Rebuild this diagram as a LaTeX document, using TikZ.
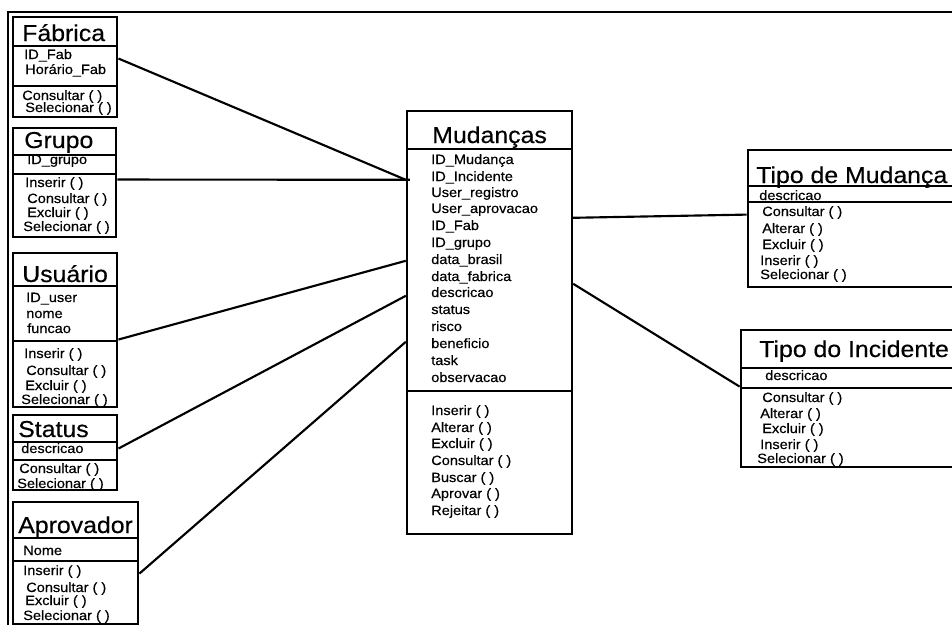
\documentclass[tikz,border=0pt]{standalone}
\usepackage{fontspec}
\setmainfont{Liberation Sans}[FakeStretch=1.08,FakeBold=0.4]
\usetikzlibrary{calc,fit}

\tikzset{
  compart/.style={draw, inner sep=0pt, line width=#1},
  compart/.default=2pt,
  link/.style={line width=1.6pt},
  frame/.style={line width=1.8pt},
  ttl/.style={anchor=base west, inner sep=0pt, font=\fontsize{17.25}{17.25}\selectfont},
  item/.style={anchor=base west, inner sep=0pt, font=\fontsize{10.1}{10.1}\selectfont},
}

% #1 name, #2 x1, #3 y1, #4 x2, #5 y2, #6 first divider, #7 second divider, #8 line width
\newcommand\umlclass[8]{%
  \node[compart=#8, fit={(#2,#3) (#4,#6)}] (#1T) {};
  \node[compart=#8, fit={(#2,#6) (#4,#7)}] (#1A) {};
  \node[compart=#8, fit={(#2,#7) (#4,#5)}] (#1M) {};
}
% #1 name prefix, #2 style, #3 list of x/y/text
\newcommand\umllines[3]{%
  \foreach \px/\py/\tx [count=\k] in {#3} {\node[#2] (#1-\k) at (\px,\py) {\tx};}
}

\begin{document}
\begin{tikzpicture}[x=0.75pt,y=-0.75pt]
\fill[white] (0,0) rectangle (952,625);
\clip (0,0) rectangle (952,625);

% outer frame
\draw[frame] (8,625) -- (8,12) -- (960,12);

% classes
\umlclass{fab}{13}{17}{117}{117}{46}{86}{2.2pt}
\umlclass{grp}{13}{128}{116}{237}{155}{174}{2.2pt}
\umlclass{usr}{13}{253}{117}{407}{286}{341}{2.2pt}
\umlclass{sta}{13}{415}{117}{490}{442}{460}{2.2pt}
\umlclass{apr}{13}{502}{138}{624}{538}{561}{2.2pt}
\umlclass{mud}{407}{111}{572}{534}{149}{391}{1.8pt}
\umlclass{tdm}{748}{150}{975}{287}{186}{202}{2.1pt}
\umlclass{tdi}{741}{330}{975}{467}{368}{388}{2.1pt}

% Fábrica
\node[ttl] (fabT-1) at (22,41) {Fábrica};
\umllines{fabA}{item}{24/59/ID\_Fab, 25/74/Horário\_Fab}
\umllines{fabM}{item}{22/100/Consultar ( ), 25/112/Selecionar ( )}

% Grupo
\node[ttl] (grpT-1) at (24,148) {Grupo};
\umllines{grpA}{item}{27/164/ID\_grupo}
\umllines{grpM}{item}{25/187/Inserir ( ), 27/203/Consultar ( ), 27/217/Excluir ( ), 23/231/Selecionar ( )}

% Usuário
\node[ttl] (usrT-1) at (22,282) {Usuário};
\umllines{usrA}{item}{26/302/ID\_user, 26/318/nome, 27/333/funcao}
\umllines{usrM}{item}{24/358/Inserir ( ), 26/375/Consultar ( ), 25/390/Excluir ( ), 21/404/Selecionar ( )}

% Status
\node[ttl] (staT-1) at (18,437) {Status};
\umllines{staA}{item}{21/453/descricao}
\umllines{staM}{item}{19/473/Consultar ( ), 17/488/Selecionar ( )}

% Aprovador
\node[ttl] (aprT-1) at (18,533) {Aprovador};
\umllines{aprA}{item}{23/555/Nome}
\umllines{aprM}{item}{23/575/Inserir ( ), 26/592/Consultar ( ), 25/605/Excluir ( ), 23/620/Selecionar ( )}

% Mudanças
\node[ttl] (mudT-1) at (432,143) {Mudanças};
\umllines{mudA}{item}{431/164/ID\_Mudança, 431/181/ID\_Incidente, 431/197/User\_registro,
  431/213/User\_aprovacao, 431/230/ID\_Fab, 431/247/ID\_grupo, 431/264/data\_brasil,
  431/281/data\_fabrica, 431/297/descricao, 431/314/status, 431/331/risco,
  431/348/beneficio, 431/365/task, 431/382/observacao}
\umllines{mudM}{item}{431/415/Inserir ( ), 431/432/Alterar ( ), 431/448/Excluir ( ),
  431/465/Consultar ( ), 431/482/Buscar ( ), 431/498/Aprovar ( ), 431/515/Rejeitar ( )}

% Tipo de Mudança
\node[ttl] (tdmT-1) at (756,183) {Tipo de Mudança};
\umllines{tdmA}{item}{759/200/descricao}
\umllines{tdmM}{item}{762/216/Consultar ( ), 762/233/Alterar ( ), 762/249/Excluir ( ),
  760/265/Inserir ( ), 760/279/Selecionar ( )}

% Tipo do Incidente
\node[ttl] (tdiT-1) at (759,357) {Tipo do Incidente};
\umllines{tdiA}{item}{765/380/descricao}
\umllines{tdiM}{item}{762/402/Consultar ( ), 760/418/Alterar ( ), 762/433/Excluir ( ),
  760/449/Inserir ( ), 757/463/Selecionar ( )}

% associations
\draw[link] ($(fabA.north east)+(0,14)$) -- ($(mudA.north west)+(0,32)$);
\draw[link] ($(grpM.north east)+(0,7)$)  -- ($(mudA.north west)+(4,32)$);
\draw[link] (usrM.north east)            -- ($(mudA.north west)+(0,113)$);
\draw[link] ($(staA.north east)+(0,8)$)  -- ($(mudA.north west)+(0,148)$);
\draw[link] ($(aprM.north east)+(0,14)$) -- ($(mudA.north west)+(0,194)$);
\draw[link] ($(mudA.north east)+(0,70)$) -- ($(tdmM.north west)+(0,14)$);
\draw[link] ($(mudA.north east)+(0,136)$) -- (tdiM.north west);
\end{tikzpicture}
\end{document}
